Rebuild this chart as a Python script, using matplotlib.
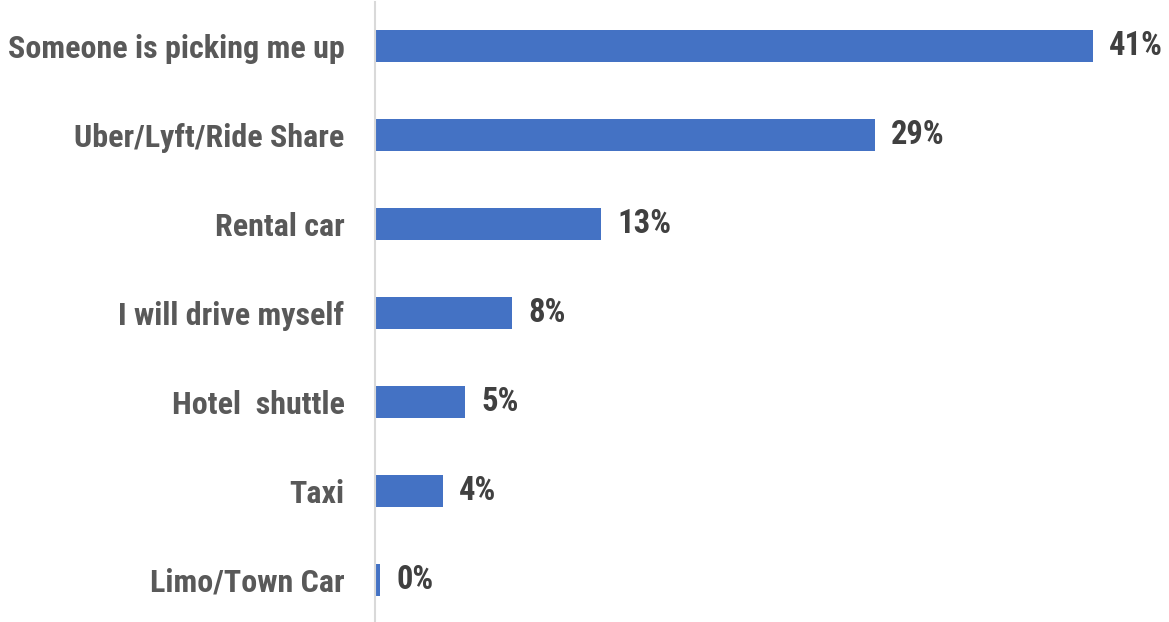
import matplotlib
matplotlib.use("Agg")
import matplotlib.pyplot as plt
from matplotlib import font_manager
from matplotlib.font_manager import FontProperties

# Survey: how respondents get from the airport
categories = [
    "Someone is picking me up",
    "Uber/Lyft/Ride Share",
    "Rental car",
    "I will drive myself",
    "Hotel  shuttle",
    "Taxi",
    "Limo/Town Car",
]
shares = [41.26, 28.74, 12.99, 7.89, 5.19, 3.91, 0.29]


def condensed_bold(size):
    """Pick a narrow bold face if one is installed, otherwise a bold sans."""
    prefs = ["roboto", "noto", "opensans", "open sans", "dejavu", "liberation", "lato", "inter"]
    found = []
    for f in font_manager.fontManager.ttflist:
        key = (f.fname + " " + f.name).lower()
        if ("condensed" in key or "narrow" in key) and "extra" not in key and "semi" not in key:
            w = f.weight if isinstance(f.weight, int) else {"bold": 700, "normal": 400}.get(f.weight, 400)
            is_bold = w >= 600 or "bold" in f.fname.lower()
            if not is_bold or "italic" in key or "oblique" in key:
                continue
            rank = next((i for i, p in enumerate(prefs) if p in key), len(prefs))
            found.append((rank, f.fname))
    if found:
        found.sort()
        return FontProperties(fname=found[0][1], size=size)
    return FontProperties(family="DejaVu Sans", weight="bold", stretch="condensed", size=size)


label_font = condensed_bold(23)
value_font = condensed_bold(23.5)

W, H, DPI = 1169, 622, 100
fig = plt.figure(figsize=(W / DPI, H / DPI), dpi=DPI)
fig.patch.set_facecolor("white")

x0, x1 = 375, 375 + 45 * 17.4
y_top, y_bot = 1.5, 624.5
ax = fig.add_axes([x0 / W, (H - y_bot) / H, (x1 - x0) / W, (y_bot - y_top) / H])

pos = list(range(len(categories)))
ax.barh(pos, shares, height=0.35, color="#4472C4", edgecolor="none")
ax.set_xlim(0, 45)
ax.set_ylim(len(categories) - 0.5, -0.5)

for y, v in zip(pos, shares):
    ax.annotate(f"{v:.0f}%", xy=(v, y), xytext=(16, 0), textcoords="offset pixels",
                ha="left", va="center", fontproperties=value_font, color="#404040")

ax.set_yticks(pos)
ax.set_yticklabels(categories, fontproperties=label_font, color="#595959")
ax.tick_params(axis="y", length=0, pad=22)
ax.set_xticks([])

for s in ("top", "right", "bottom"):
    ax.spines[s].set_visible(False)
ax.spines["left"].set_color("#D9D9D9")
ax.spines["left"].set_linewidth(1.5)

fig.savefig("out.png", dpi=DPI, facecolor="white")
